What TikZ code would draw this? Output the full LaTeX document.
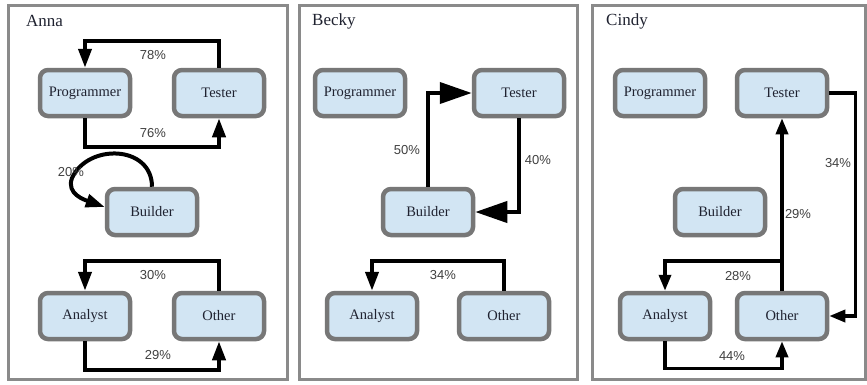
\documentclass[tikz,border=0pt]{standalone}
\usepackage{fontspec}
\setmainfont{Liberation Serif}
\newfontfamily\labelfont{Liberation Sans}
\usetikzlibrary{arrows.meta,calc}

\definecolor{boxfill}{HTML}{D2E5F3}
\definecolor{boxgray}{HTML}{777777}
\definecolor{panelgray}{HTML}{8A8A8A}
\definecolor{nodetext}{HTML}{1F2230}
\definecolor{labelgray}{HTML}{404040}

\begin{document}
\begin{tikzpicture}[x=1pt,y=-1pt,
  role/.style={draw=boxgray, line width=4.5pt, fill=boxfill, rounded corners=8pt,
    minimum width=90pt, minimum height=46pt, inner sep=0pt,
    font=\fontsize{14.5}{16}\selectfont, text=nodetext},
  flow/.style={draw=black, line width=4pt, -{Triangle[length=19pt,width=13pt]}},
  bigflow/.style={draw=black, line width=4pt, -{Triangle[length=32pt,width=21pt]}},
  thinflow/.style={draw=black, line width=3.5pt, -{Triangle[length=16pt,width=12pt]}},
  pct/.style={font=\labelfont\fontsize{13}{15}\selectfont, text=labelgray, inner sep=0pt},
  panel/.style={draw=panelgray, line width=3pt},
  title/.style={anchor=west, font=\fontsize{17}{20}\selectfont, inner sep=0pt, text=nodetext}]

\useasboundingbox[fill=white] (0,0) rectangle (867,384);

% ---------- panels ----------
\draw[panel] (8,5) rectangle (287,379);
\draw[panel] (299,5) rectangle (577,379);
\draw[panel] (592,5) rectangle (865,379);
\node[title] (tA) at (26,21) {Anna};
\node[title] (tB) at (312,21) {Becky};
\node[title] (tC) at (606,21) {Cindy};

% ---------- Anna ----------
\node[role] (aP) at (85,93) {Programmer};
\node[role] (aT) at (219,93) {Tester};
\node[role] (aB) at (152,212) {Builder};
\node[role] (aA) at (85,316) {Analyst};
\node[role] (aO) at (219,316) {Other};

\draw[flow] (aT.north) -- ++(0,-27) -| (aP.north);
\draw[flow] (aP.south) -- ++(0,29) -| (aT.south);
\draw[flow] (aB.north) .. controls (152,145) and (88,143) .. (72,178)
  .. controls (66,194) and (85,200) .. ($(aB.west)+(0,-5)$);
\draw[flow] (aO.north) -- ++(0,-30) -| (aA.north);
\draw[flow] (aA.south) -- ++(0,29) -| (aO.south);

\node[pct] (aL1) at (153,55) {78\%};
\node[pct] (aL2) at (153,133) {76\%};
\node[pct] (aL3) at (71,172) {20\%};
\node[pct] (aL4) at (153,275) {30\%};
\node[pct] (aL5) at (158,355) {29\%};

% ---------- Becky ----------
\node[role] (bP) at (360,93) {Programmer};
\node[role] (bT) at (519,93) {Tester};
\node[role] (bB) at (428,212) {Builder};
\node[role] (bA) at (372,316) {Analyst};
\node[role] (bO) at (504,316) {Other};

\draw[bigflow] (bB.north) |- (bT.west);
\draw[bigflow] (bT.south) |- (bB.east);
\draw[flow] (bO.north) -- ++(0,-30) -| (bA.north);

\node[pct] (bL1) at (407,150) {50\%};
\node[pct] (bL2) at (538,160) {40\%};
\node[pct] (bL3) at (443,275) {34\%};

% ---------- Cindy ----------
\node[role] (cP) at (660,93) {Programmer};
\node[role] (cT) at (782,93) {Tester};
\node[role] (cB) at (720,212) {Builder};
\node[role] (cA) at (665,316) {Analyst};
\node[role] (cO) at (782,316) {Other};

\coordinate (cJ) at ($(cO.north)+(0,-30)$);
\draw[thinflow] (cO.north) -- (cT.south);
\draw[thinflow] (cJ) -| (cA.north);
\draw[thinflow] (cT.east) -- ++(26,0) |- (cO.east);
\draw[thinflow] (cA.south) -- ++(0,27) -| (cO.south);

\node[pct] (cL1) at (798,214) {29\%};
\node[pct] (cL2) at (738,276) {28\%};
\node[pct] (cL3) at (838,163) {34\%};
\node[pct] (cL4) at (732,356) {44\%};

\end{tikzpicture}
\end{document}
